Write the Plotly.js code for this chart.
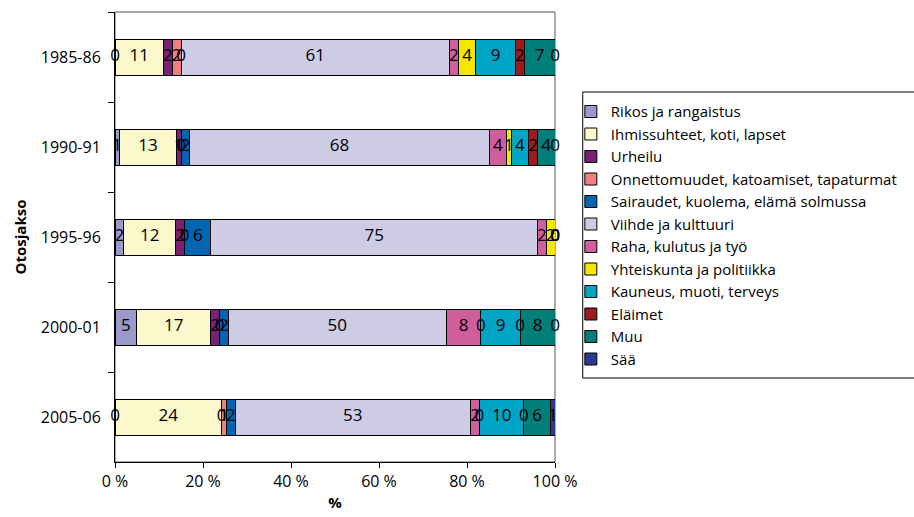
<!DOCTYPE html>
<html>
<head>
<meta charset="utf-8">
<script src="https://cdn.plot.ly/plotly-3.0.1.min.js"></script>
<style>html,body{margin:0;padding:0;background:#fff;}#chart{width:914px;height:517px;}</style>
</head>
<body>
<div id="chart"></div>
<script>
var periods = ['1985-86', '1990-91', '1995-96', '2000-01', '2005-06'];
var seriesNames = [
  'Rikos ja rangaistus',
  'Ihmissuhteet, koti, lapset',
  'Urheilu',
  'Onnettomuudet, katoamiset, tapaturmat',
  'Sairaudet, kuolema, elämä solmussa',
  'Viihde ja kulttuuri',
  'Raha, kulutus ja työ',
  'Yhteiskunta ja politiikka',
  'Kauneus, muoti, terveys',
  'Eläimet',
  'Muu',
  'Sää'
];
var rikos = [0, 1, 2, 5, 0];
var ihmissuhteet = [11, 13, 12, 17, 24];
var urheilu = [2, 1, 2, 2, 0];
var onnettomuudet = [2, 0, 0, 0, 1];
var sairaudet = [0, 2, 6, 2, 2];
var viihde = [61, 68, 75, 50, 53];
var raha = [2, 4, 2, 8, 2];
var yhteiskunta = [4, 1, 2, 0, 0];
var kauneus = [9, 4, 0, 9, 10];
var elaimet = [2, 2, 0, 0, 0];
var muu = [7, 4, 0, 8, 6];
var saa = [0, 0, 0, 0, 1];
var xTickVals = [0, 20, 40, 60, 80, 100];
var xTickText = ['0 %', '20 %', '40 %', '60 %', '80 %', '100 %'];

var seriesValues = [rikos, ihmissuhteet, urheilu, onnettomuudet, sairaudet, viihde, raha, yhteiskunta, kauneus, elaimet, muu, saa];
var colors = ['#9999CC', '#FBF8CC', '#7B1F74', '#F08080', '#0066B2', '#CDCCE4', '#D05E9C', '#F5E600', '#00A5C6', '#9B1B1F', '#007F78', '#2B3A8F'];

var FONT = 'Open Sans, sans-serif';
var totals = periods.map(function(p, i){
  var s = 0; seriesValues.forEach(function(v){ s += v[i]; }); return s;
});
var traces = [];
seriesValues.forEach(function(vals, k){
  traces.push({
    type: 'bar', orientation: 'h', name: seriesNames[k],
    y: periods,
    x: vals.map(function(v, i){ return v / totals[i] * 100; }),
    marker: {color: colors[k], line: {color: '#000', width: 1}},
    hoverinfo: 'skip'
  });
});
var cum = periods.map(function(){ return 0; });
seriesValues.forEach(function(vals, k){
  var mids = vals.map(function(v, i){
    var w = v / totals[i] * 100; var m = cum[i] + w / 2; cum[i] += w; return m;
  });
  traces.push({
    type: 'scatter', mode: 'text', showlegend: false, hoverinfo: 'skip',
    x: mids, y: periods, text: vals.map(String),
    textposition: 'middle center', cliponaxis: false,
    textfont: {family: FONT, size: 17, color: '#000'}
  });
});

var layout = {
  width: 914, height: 517,
  margin: {l: 115, r: 355, t: 12, b: 55},
  paper_bgcolor: '#fff', plot_bgcolor: '#fff',
  barmode: 'stack', bargap: 0.6,
  showlegend: true,
  font: {family: FONT, size: 15, color: '#000'},
  xaxis: {
    range: [0, 100], tickvals: xTickVals, ticktext: xTickText,
    showgrid: false, zeroline: false, showline: true, linecolor: '#000', linewidth: 1,
    ticks: 'outside', ticklen: 5, tickcolor: '#000',
    tickfont: {family: FONT, size: 16},
    title: {text: '<b>%</b>', font: {family: FONT, size: 15}, standoff: 6},
    fixedrange: true
  },
  yaxis: {
    type: 'category',
    categoryorder: 'array', categoryarray: periods, autorange: 'reversed',
    showgrid: false, zeroline: false, showline: true, linecolor: '#000', linewidth: 1,
    ticks: 'outside', tickson: 'boundaries', ticklen: 6, tickcolor: '#000',
    ticklabelstandoff: 10,
    tickfont: {family: FONT, size: 16},
    title: {text: '<b>Otosjakso</b>', font: {family: FONT, size: 15}, standoff: 10},
    fixedrange: true
  },
  legend: {
    x: 1.036, xanchor: 'left', y: 0.815, yanchor: 'top',
    traceorder: 'normal', borderwidth: 0, bgcolor: 'rgba(0,0,0,0)',
    font: {family: FONT, size: 15}, itemclick: false
  },
  shapes: [
    {type: 'rect', xref: 'paper', yref: 'paper', x0: 0, x1: 1, y0: 0, y1: 1, line: {color: '#555', width: 1}, layer: 'below'},
    {type: 'rect', xref: 'paper', yref: 'paper', x0: 1.0631, x1: 1.86, y0: 0.1867, y1: 0.8222, line: {color: '#000', width: 1}}
  ]
};
Plotly.newPlot('chart', traces, layout, {displayModeBar: false, staticPlot: true});
</script>
</body>
</html>
